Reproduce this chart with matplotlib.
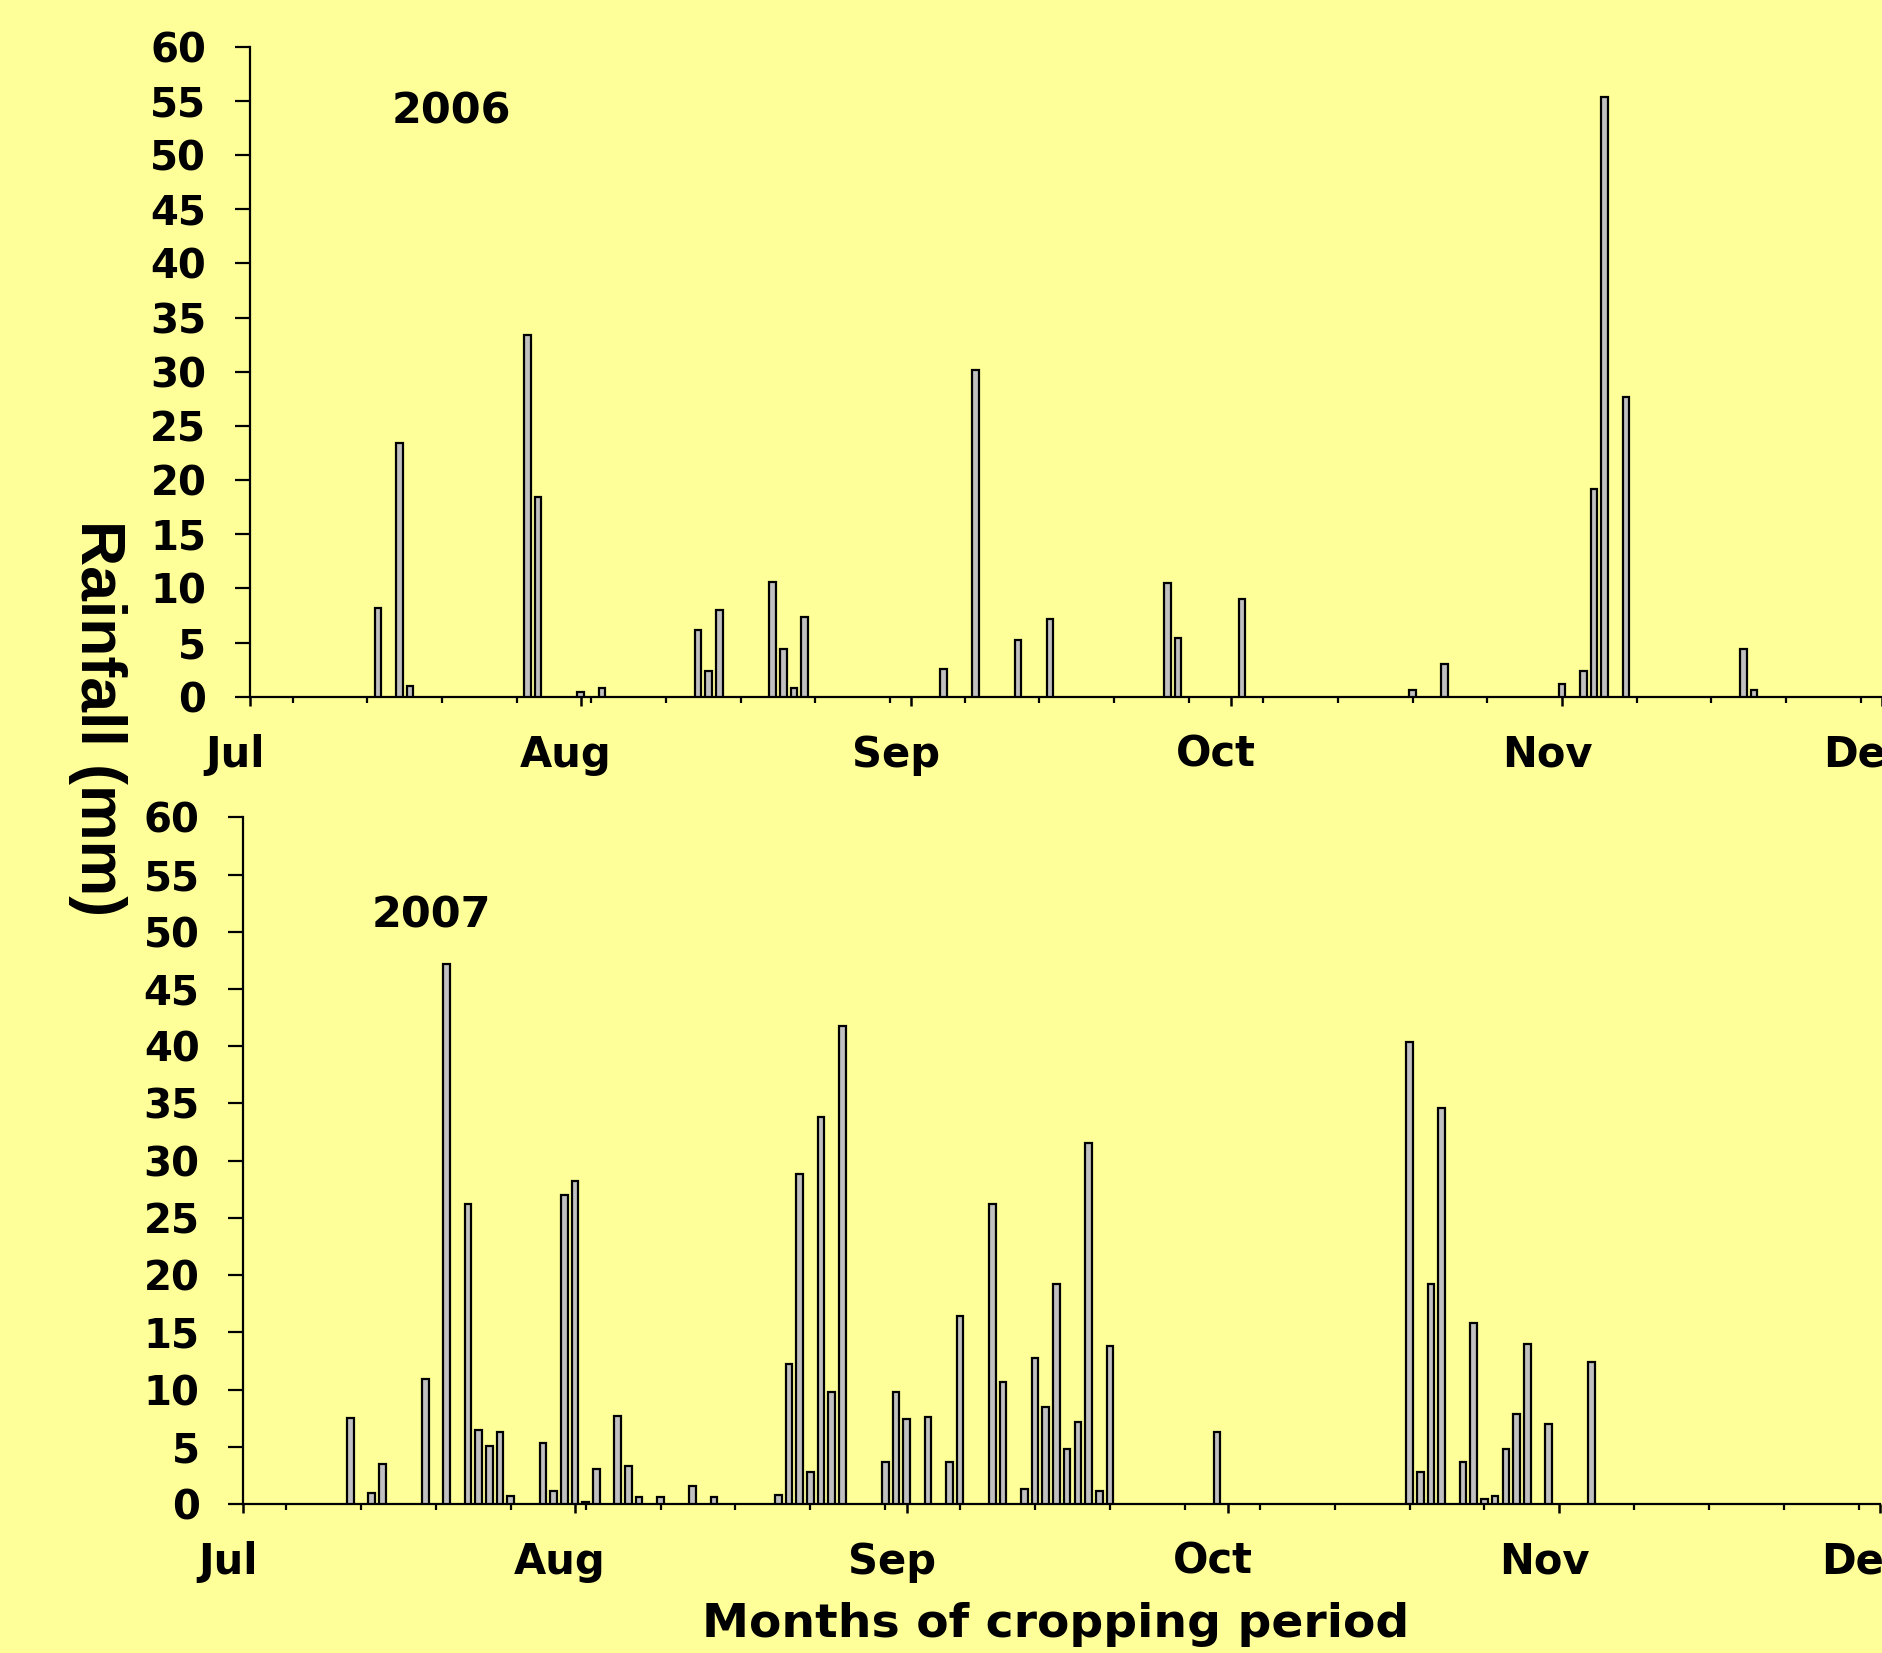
import numpy as np
import matplotlib
matplotlib.use('Agg')
import matplotlib.pyplot as plt
from matplotlib.transforms import ScaledTranslation

# days counted from 1 July (0 = Jul 1)
days_2006 = [12, 14, 15, 26, 27, 31, 33, 42, 43, 44, 49, 50, 51, 52, 65, 68,
             72, 75, 86, 87, 93, 109, 112, 123, 125, 126, 127, 129, 140, 141]
rain_2006 = [8.2, 23.4, 1.0, 33.4, 18.4, 0.4, 0.8, 6.2, 2.4, 8.0, 10.6, 4.4,
             0.8, 7.4, 2.6, 30.2, 5.2, 7.2, 10.5, 5.4, 9.0, 0.6, 3.0, 1.2,
             2.4, 19.2, 55.4, 27.7, 4.4, 0.6]

days_2007 = [10, 12, 13, 17, 19, 21, 22, 23, 24, 25, 28, 29, 30, 31, 32, 33,
             35, 36, 37, 39, 42, 44, 50, 51, 52, 53, 54, 55, 56, 60, 61, 62,
             64, 66, 67, 70, 71, 73, 74, 75, 76, 77, 78, 79, 80, 81, 91, 109,
             110, 111, 112, 114, 115, 116, 117, 118, 119, 120, 122, 126]
rain_2007 = [7.5, 1.0, 3.5, 10.9, 47.2, 26.2, 6.5, 5.1, 6.3, 0.7, 5.3, 1.1,
             27.0, 28.2, 0.2, 3.1, 7.7, 3.3, 0.6, 0.6, 1.6, 0.6, 0.8, 12.2,
             28.8, 2.8, 33.8, 9.8, 41.8, 3.7, 9.8, 7.4, 7.6, 3.7, 16.4, 26.2,
             10.7, 1.3, 12.8, 8.5, 19.2, 4.8, 7.2, 31.5, 1.1, 13.8, 6.3, 40.4,
             2.8, 19.2, 34.6, 3.7, 15.8, 0.4, 0.7, 4.8, 7.9, 14.0, 7.0, 12.4]

month_names = ['Jul', 'Aug', 'Sep', 'Oct', 'Nov', 'Dec']
month_starts = [0, 31, 62, 92, 123, 153]
week_ticks = list(range(4, 153, 7))
y_ticks = list(range(0, 61, 5))

bg = '#FFFF99'
plt.rcParams['font.family'] = 'DejaVu Sans'
plt.rcParams['font.weight'] = 'bold'

fig = plt.figure(figsize=(18.83, 16.53), dpi=100, facecolor=bg)
ax1 = fig.add_axes([0.13277, 0.57852, 0.8667, 0.39322])
ax2 = fig.add_axes([0.12921, 0.09014, 0.86936, 0.41543])

shift = ScaledTranslation(-0.15, 0, fig.dpi_scale_trans)

for ax, d, r in [(ax1, days_2006, rain_2006), (ax2, days_2007, rain_2007)]:
    ax.set_facecolor(bg)
    ax.bar(d, r, width=0.62, color='#C0C0C0', edgecolor='black',
           linewidth=1.6, zorder=3)
    ax.set_xlim(0, 153)
    ax.set_ylim(0, 60)
    ax.set_yticks(y_ticks)
    ax.set_xticks(month_starts)
    ax.set_xticklabels(month_names)
    ax.set_xticks(week_ticks, minor=True)
    for s in ['top', 'right']:
        ax.spines[s].set_visible(False)
    for s in ['left', 'bottom']:
        ax.spines[s].set_linewidth(1.6)
    ax.tick_params(axis='y', direction='out', length=10.5, width=1.6,
                   pad=21, labelsize=29)
    ax.tick_params(axis='x', which='major', direction='out', length=6.5,
                   width=1.8, pad=20, labelsize=30)
    ax.tick_params(axis='x', which='minor', direction='out', length=4,
                   width=1.6)
    for lab in ax.get_xticklabels():
        lab.set_transform(lab.get_transform() + shift)

fig.text(451 / 1883, 1 - 124 / 1653, '2006', fontsize=31, fontweight='bold',
         ha='center', va='baseline')
fig.text(431 / 1883, 1 - 928 / 1653, '2007', fontsize=31, fontweight='bold',
         ha='center', va='baseline')

fig.text(97 / 1883, 1 - 718 / 1653, 'Rainfall (mm)', fontsize=45,
         fontweight='bold', family='Liberation Sans', rotation=270,
         ha='center', va='center')
fig.text(1056 / 1883, 1 - 1637 / 1653, 'Months of cropping period',
         fontsize=34, fontweight='bold', ha='center', va='baseline')

fig.savefig('out.png', dpi=100, facecolor=bg)
